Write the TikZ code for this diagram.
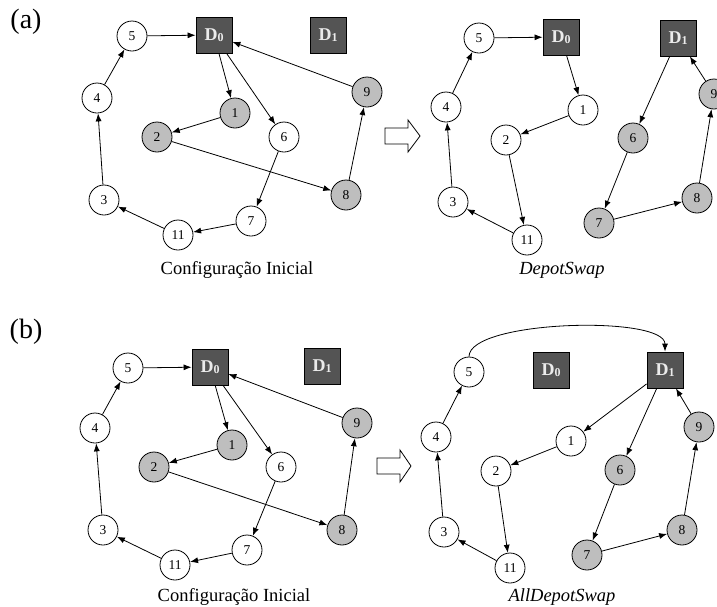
\documentclass[tikz,border=0pt]{standalone}
\usepackage{fontspec}
\setmainfont{Liberation Serif}
\usetikzlibrary{arrows.meta}

\definecolor{depfill}{HTML}{545454}
\definecolor{cligray}{HTML}{BEBEBE}

\newcommand{\depot}[1]{\textbf{D\raisebox{-1.5pt}{\fontsize{12}{12}\selectfont #1}}}

\begin{document}
\begin{tikzpicture}[x=1pt, y=-1pt,
    cli/.style={circle, draw, fill=white, minimum size=30pt, inner sep=0pt, font=\fontsize{13.5}{13.5}\selectfont},
    clig/.style={cli, fill=cligray},
    dep/.style={draw, fill=depfill, text=white!92!black, minimum size=36pt, inner sep=0pt, font=\fontsize{18}{18}\selectfont},
    seta/.style={-{Latex[length=8pt, width=6pt]}, line width=0.8pt},
    capt/.style={font=\fontsize{18.5}{18.5}\selectfont},
    every path/.style={line width=0.8pt}]
      \useasboundingbox (0,0) rectangle (717,606);
      \node[font=\fontsize{28}{28}\selectfont] (la) at (26,22) {(a)};
      \node[font=\fontsize{28}{28}\selectfont] (lb) at (26,332) {(b)};

      % (a) configuracao inicial
      \node[cli] (aL5) at (132,36) {5};
      \node[dep] (aLD0) at (214,35) {\depot{0}};
      \node[dep] (aLD1) at (328,35) {\depot{1}};
      \node[cli] (aL4) at (97,98) {4};
      \node[clig] (aL1) at (235,113) {1};
      \node[clig] (aL2) at (157,137) {2};
      \node[cli] (aL6) at (284,137) {6};
      \node[clig] (aL9) at (367,92) {9};
      \node[cli] (aL3) at (104,200) {3};
      \node[clig] (aL8) at (346,195) {8};
      \node[cli] (aL7) at (251,221) {7};
      \node[cli] (aL11) at (178,235) {11};
      \node[capt] (capaL) at (237,270) {Configuração Inicial};
      \draw[seta] (aL5) -- (aLD0);
      \draw[seta] (aLD0) -- (aL1);
      \draw[seta] (aL1) -- (aL2);
      \draw[seta] (aL2) -- (aL8);
      \draw[seta] (aL8) -- (aL9);
      \draw[seta] (aL9) -- (aLD0);
      \draw[seta] (aLD0) -- (aL6);
      \draw[seta] (aL6) -- (aL7);
      \draw[seta] (aL7) -- (aL11);
      \draw[seta] (aL11) -- (aL3);
      \draw[seta] (aL3) -- (aL4);
      \draw[seta] (aL4) -- (aL5);

      \draw (385,128) -- (408,128) -- (408,120) -- (420,136) -- (408,152) -- (408,144) -- (385,144) -- cycle;

      % (a) DepotSwap
      \node[cli] (aR5) at (479,38) {5};
      \node[dep] (aRD0) at (561,37) {\depot{0}};
      \node[dep] (aRD1) at (678,38) {\depot{1}};
      \node[cli] (aR4) at (446,107) {4};
      \node[cli] (aR1) at (583,110) {1};
      \node[cli] (aR2) at (506,140) {2};
      \node[cli] (aR3) at (453,202) {3};
      \node[cli] (aR11) at (527,240) {11};
      \node[clig] (aR6) at (633,138) {6};
      \node[clig] (aR7) at (599,223) {7};
      \node[clig] (aR8) at (697,198) {8};
      \node[clig] (aR9) at (714,94) {9};
      \node[capt] (capaR) at (562,270) {\textit{DepotSwap}};
      \draw[seta] (aR5) -- (aRD0);
      \draw[seta] (aRD0) -- (aR1);
      \draw[seta] (aR1) -- (aR2);
      \draw[seta] (aR2) -- (aR11);
      \draw[seta] (aR11) -- (aR3);
      \draw[seta] (aR3) -- (aR4);
      \draw[seta] (aR4) -- (aR5);
      \draw[seta] (aRD1) -- (aR6);
      \draw[seta] (aR6) -- (aR7);
      \draw[seta] (aR7) -- (aR8);
      \draw[seta] (aR8) -- (aR9);
      \draw[seta] (aR9) -- (aRD1);

      % (b) configuracao inicial
      \node[cli] (bL5) at (128,368) {5};
      \node[dep] (bLD0) at (210,367) {\depot{0}};
      \node[dep] (bLD1) at (322,366) {\depot{1}};
      \node[cli] (bL4) at (95,428) {4};
      \node[clig] (bL1) at (232,445) {1};
      \node[clig] (bL2) at (154,467) {2};
      \node[cli] (bL6) at (281,467) {6};
      \node[clig] (bL9) at (357,423) {9};
      \node[cli] (bL3) at (103,530) {3};
      \node[clig] (bL8) at (342,530) {8};
      \node[cli] (bL7) at (247,550) {7};
      \node[cli] (bL11) at (175,565) {11};
      \node[capt] (capbL) at (234,597) {Configuração Inicial};
      \draw[seta] (bL5) -- (bLD0);
      \draw[seta] (bLD0) -- (bL1);
      \draw[seta] (bL1) -- (bL2);
      \draw[seta] (bL2) -- (bL8);
      \draw[seta] (bL8) -- (bL9);
      \draw[seta] (bL9) -- (bLD0);
      \draw[seta] (bLD0) -- (bL6);
      \draw[seta] (bL6) -- (bL7);
      \draw[seta] (bL7) -- (bL11);
      \draw[seta] (bL11) -- (bL3);
      \draw[seta] (bL3) -- (bL4);
      \draw[seta] (bL4) -- (bL5);

      \draw (377,458) -- (400,458) -- (400,450) -- (411,466) -- (400,482) -- (400,474) -- (377,474) -- cycle;

      % (b) AllDepotSwap
      \node[cli] (bR5) at (469,372) {5};
      \node[dep] (bRD0) at (551,370) {\depot{0}};
      \node[dep] (bRD1) at (665,370) {\depot{1}};
      \node[cli] (bR4) at (436,437) {4};
      \node[cli] (bR1) at (571,441) {1};
      \node[cli] (bR2) at (496,471) {2};
      \node[cli] (bR3) at (444,532) {3};
      \node[cli] (bR11) at (510,568) {11};
      \node[clig] (bR6) at (620,470) {6};
      \node[clig] (bR7) at (587,555) {7};
      \node[clig] (bR8) at (682,530) {8};
      \node[clig] (bR9) at (699,427) {9};
      \node[capt] (capbR) at (562,597) {\textit{AllDepotSwap}};
      \draw[seta] (bR5.north) .. controls (469,320) and (665,315) .. (bRD1.north);
      \draw[seta] (bRD1) -- (bR1);
      \draw[seta] (bR1) -- (bR2);
      \draw[seta] (bR2) -- (bR11);
      \draw[seta] (bR11) -- (bR3);
      \draw[seta] (bR3) -- (bR4);
      \draw[seta] (bR4) -- (bR5);
      \draw[seta] (bRD1) -- (bR6);
      \draw[seta] (bR6) -- (bR7);
      \draw[seta] (bR7) -- (bR8);
      \draw[seta] (bR8) -- (bR9);
      \draw[seta] (bR9) -- (bRD1);
\end{tikzpicture}
\end{document}
